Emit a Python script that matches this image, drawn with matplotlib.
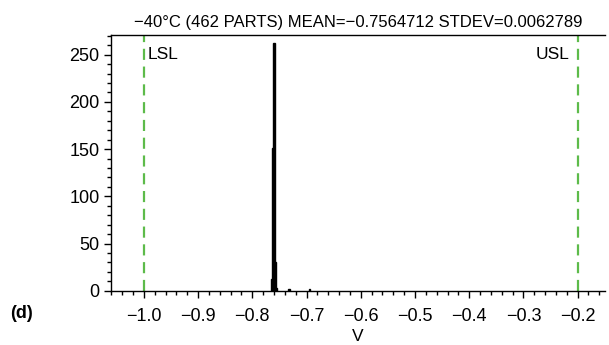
import matplotlib.pyplot as plt
from matplotlib.ticker import MultipleLocator

plt.rcParams['font.family'] = ['Liberation Sans', 'DejaVu Sans']

bin_centers = [-0.7650, -0.7625, -0.7600, -0.7575, -0.7550, -0.7325, -0.6950]
counts = [12, 151, 262, 30, 3, 2, 2]
bin_width = 0.0025
lsl, usl = -1.0, -0.2
title = "\u221240\u00b0C (462 PARTS) MEAN=\u22120.7564712 STDEV=0.0062789"
xticks = [-1.0, -0.9, -0.8, -0.7, -0.6, -0.5, -0.4, -0.3, -0.2]
yticks = [0, 50, 100, 150, 200, 250]

fig = plt.figure(figsize=(6.09, 3.45), dpi=100)
ax = fig.add_axes([0.182, 0.157, 0.811, 0.742])

ax.bar(bin_centers, counts, width=bin_width, color='black', edgecolor='black', linewidth=1.0)
green = '#5dbb4a'
ax.axvline(lsl, color=green, linestyle=(0, (5, 3)), linewidth=1.6)
ax.axvline(usl, color=green, linestyle=(0, (5, 3)), linewidth=1.6)
ax.text(lsl + 0.007, 250, "LSL", fontsize=12.5, va='center', ha='left')
ax.text(usl - 0.015, 250, "USL", fontsize=12.5, va='center', ha='right')

ax.set_xlim(-1.061, -0.15)
ax.set_ylim(0, 271)
ax.set_xticks(xticks)
ax.set_xticklabels([f"{t:.1f}".replace('-', '\u2212') for t in xticks])
ax.set_yticks(yticks)
ax.xaxis.set_minor_locator(MultipleLocator(0.02))
ax.yaxis.set_minor_locator(MultipleLocator(10))
ax.tick_params(which='major', length=5, width=1, labelsize=13)
ax.tick_params(axis='x', which='major', pad=7)
ax.tick_params(axis='y', which='major', pad=3)
ax.tick_params(which='minor', length=3, width=1)
for s in ax.spines.values():
    s.set_linewidth(1)
ax.spines['right'].set_visible(False)

ax.set_title(title, fontsize=12, pad=6)
ax.set_xlabel("V", fontsize=12.5, labelpad=3)
fig.text(0.017, 0.09, "(d)", fontsize=13, fontweight='bold', ha='left', va='center')

fig.savefig("out.png", dpi=100)
